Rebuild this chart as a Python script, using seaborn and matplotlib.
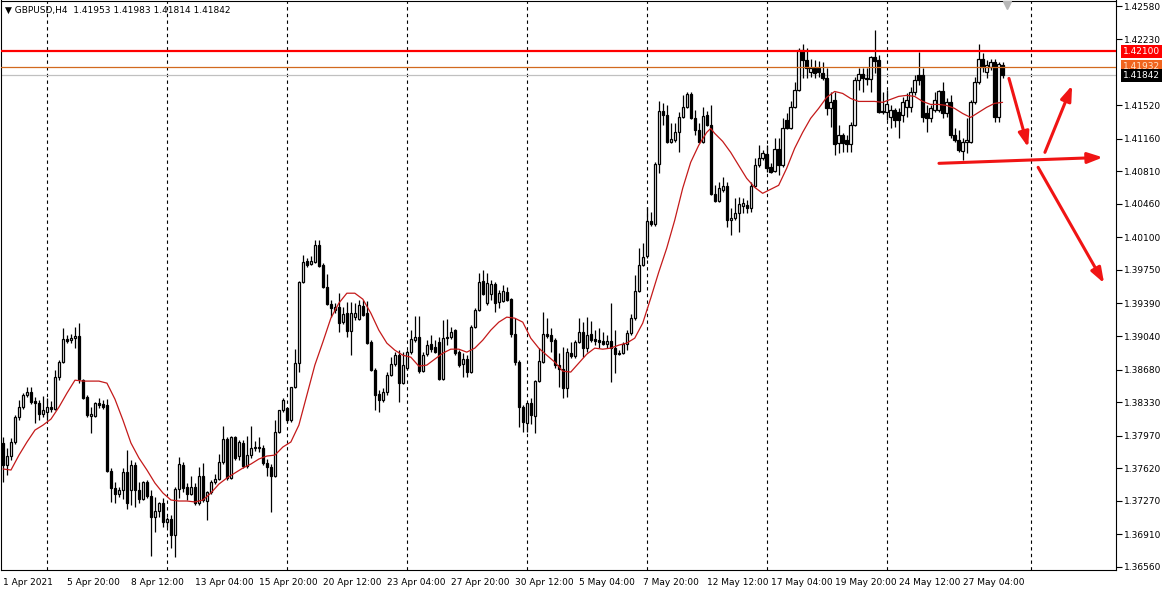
import numpy as np
import matplotlib
matplotlib.use("Agg")
import matplotlib.pyplot as plt
import matplotlib.transforms as mtransforms
import seaborn as sns

symbol_title = "\u25BC GBPUSD,H4  1.41953 1.41983 1.41814 1.41842"

opens = [
 1.37891,1.37654,1.37751,1.37902,1.38169,1.38277,1.38405,1.38438,1.38341,1.38320,
 1.38201,1.38223,1.38277,1.38255,1.38599,1.38760,1.39006,1.38996,1.39017,1.39039,
 1.38566,1.38384,1.38180,1.38180,1.38320,1.38309,1.38298,1.37590,1.37407,1.37343,
 1.37386,1.37580,1.37386,1.37654,1.37386,1.37289,1.37472,1.37322,1.37096,1.37160,
 1.37247,1.37043,1.37075,1.36903,1.37397,1.37654,1.37418,1.37343,1.37418,1.37247,
 1.37537,1.37268,1.37365,1.37472,1.37504,1.37687,1.37933,1.37515,1.37955,1.37751,
 1.37891,1.37644,1.37761,1.37837,1.37848,1.37837,1.37676,1.37633,1.37537,1.38009,
 1.38244,1.38266,1.38137,1.38491,1.38749,1.39618,1.39843,1.39811,1.39833,1.40015,
 1.39800,1.39564,1.39382,1.39318,1.39350,1.39189,1.39286,1.39092,1.39243,1.39221,
 1.39361,1.39286,1.38975,1.38674,1.38416,1.38352,1.38438,1.38620,1.38738,1.38834,
 1.38534,1.38695,1.38867,1.38996,1.39028,1.38663,1.38845,1.38953,1.38921,1.38975,
 1.38577,1.39028,1.39028,1.39103,1.38867,1.38738,1.38792,1.38653,1.39135,1.39318,
 1.39628,1.39393,1.39489,1.39596,1.39404,1.39414,1.39511,1.39436,1.39060,1.38760,
 1.38277,1.38105,1.38320,1.38180,1.38555,1.38760,1.39060,1.39049,1.38996,1.38728,
 1.38685,1.38480,1.38856,1.38824,1.38975,1.39082,1.38910,1.39060,1.39006,1.38996,
 1.38985,1.38953,1.38985,1.38910,1.38856,1.38856,1.38953,1.39071,1.39232,1.39521,
 1.39800,1.39897,1.40272,1.40240,1.40884,1.41453,1.41410,1.41120,1.41142,1.41227,
 1.41388,1.41496,1.41635,1.41377,1.41249,1.41120,1.41410,1.41303,1.40562,1.40487,
 1.40605,1.40648,1.40283,1.40305,1.40358,1.40433,1.40444,1.40412,1.40648,1.40873,
 1.40948,1.40991,1.40852,1.40809,1.41045,1.40873,1.41356,1.41270,1.41496,1.41678,
 1.42107,1.42000,1.41871,1.41914,1.41914,1.41860,1.41807,1.41485,1.41571,1.41109,
 1.41195,1.41142,1.41099,1.41303,1.41785,1.41850,1.41796,1.41796,1.42032,1.42000,
 1.41453,1.41442,1.41388,1.41464,1.41442,1.41410,1.41496,1.41496,1.41657,1.41839,
 1.41839,1.41431,1.41377,1.41464,1.41464,1.41667,1.41431,1.41550,1.41195,1.41142,
 1.41024,1.41120,1.41120,1.41550,1.41764,1.42021,1.41871,1.41925,1.41979,1.41388,
 1.41953]

highs = [
 1.37955,1.37837,1.37944,1.38190,1.38352,1.38427,1.38491,1.38491,1.38384,1.38352,
 1.38395,1.38373,1.38341,1.38674,1.38781,1.39124,1.39049,1.39060,1.39135,1.39178,
 1.38577,1.38405,1.38277,1.38331,1.38373,1.38352,1.38362,1.37622,1.37472,1.37418,
 1.37622,1.37815,1.37708,1.37687,1.37472,1.37482,1.37493,1.37386,1.37311,1.37258,
 1.37300,1.37096,1.37118,1.37418,1.37740,1.37687,1.37461,1.37537,1.37461,1.37633,
 1.37676,1.37375,1.37493,1.37558,1.37772,1.38073,1.37955,1.37966,1.37966,1.37923,
 1.37923,1.37966,1.38073,1.37912,1.37955,1.37869,1.37719,1.37665,1.38137,1.38244,
 1.38373,1.38277,1.38491,1.38899,1.39628,1.39907,1.39875,1.39897,1.40069,1.40069,
 1.39822,1.39704,1.39425,1.39393,1.39500,1.39350,1.39404,1.39404,1.39393,1.39425,
 1.39425,1.39414,1.38996,1.38695,1.38459,1.38480,1.38653,1.38813,1.38867,1.38888,
 1.38867,1.38888,1.39103,1.39253,1.39253,1.38867,1.38996,1.39049,1.38996,1.39028,
 1.39210,1.39221,1.39135,1.39114,1.38888,1.38856,1.38834,1.39157,1.39339,1.39715,
 1.39747,1.39715,1.39639,1.39618,1.39532,1.39586,1.39564,1.39446,1.39232,1.38781,
 1.38298,1.38320,1.38373,1.38566,1.38910,1.39296,1.39232,1.39124,1.39017,1.38856,
 1.38921,1.38910,1.38975,1.38996,1.39232,1.39189,1.39243,1.39200,1.39103,1.39124,
 1.39082,1.39049,1.39393,1.39103,1.38888,1.38975,1.39103,1.39275,1.39693,1.39983,
 1.40037,1.40423,1.40369,1.40906,1.41560,1.41539,1.41517,1.41324,1.41324,1.41442,
 1.41624,1.41657,1.41657,1.41464,1.41324,1.41496,1.41453,1.41517,1.40659,1.40691,
 1.40745,1.40691,1.40412,1.40519,1.40530,1.40519,1.40498,1.40691,1.40948,1.41088,
 1.41034,1.41088,1.40895,1.41163,1.41163,1.41377,1.41431,1.41560,1.41764,1.42129,
 1.42182,1.42129,1.42021,1.42000,1.41989,1.41979,1.41914,1.41657,1.41657,1.41303,
 1.41217,1.41195,1.41335,1.41817,1.41914,1.41914,1.41914,1.42043,1.42322,1.42054,
 1.41657,1.41678,1.41517,1.41485,1.41485,1.41603,1.41646,1.41710,1.41839,1.42086,
 1.41914,1.41517,1.41517,1.41657,1.41678,1.41764,1.41593,1.41624,1.41270,1.41249,
 1.41163,1.41377,1.41571,1.41817,1.42182,1.42075,1.42000,1.42021,1.42021,1.41979,
 1.41983]

lows = [
 1.37472,1.37547,1.37708,1.37880,1.38137,1.38255,1.38384,1.38309,1.38105,1.38137,
 1.38169,1.38137,1.38223,1.38244,1.38566,1.38749,1.38964,1.38964,1.38910,1.38534,
 1.38362,1.38169,1.37998,1.38169,1.38266,1.38255,1.37580,1.37258,1.37247,1.37311,
 1.37289,1.37182,1.37225,1.37204,1.37247,1.37279,1.37300,1.36678,1.36936,1.37096,
 1.36989,1.36989,1.36764,1.36667,1.37300,1.37365,1.37279,1.37332,1.37225,1.37225,
 1.37258,1.37064,1.37343,1.37450,1.37493,1.37665,1.37493,1.37504,1.37708,1.37708,
 1.37622,1.37622,1.37730,1.37805,1.37794,1.37654,1.37537,1.37150,1.37526,1.37998,
 1.38223,1.38116,1.38116,1.38480,1.38653,1.39607,1.39779,1.39800,1.39822,1.39779,
 1.39553,1.39371,1.39243,1.39286,1.39082,1.39168,1.39028,1.38834,1.39210,1.39210,
 1.39253,1.38953,1.38663,1.38244,1.38223,1.38331,1.38405,1.38609,1.38717,1.38331,
 1.38523,1.38674,1.38845,1.38975,1.38642,1.38653,1.38824,1.38867,1.38856,1.38566,
 1.38566,1.38942,1.39006,1.38834,1.38706,1.38599,1.38599,1.38642,1.39124,1.39307,
 1.39478,1.39371,1.39425,1.39296,1.39339,1.39404,1.39414,1.39028,1.38728,1.38062,
 1.38009,1.38009,1.38094,1.37998,1.38545,1.38749,1.39017,1.38867,1.38695,1.38491,
 1.38373,1.38384,1.38803,1.38803,1.38964,1.38813,1.38867,1.38975,1.38942,1.38910,
 1.38942,1.38910,1.38545,1.38642,1.38834,1.38845,1.38888,1.39049,1.39210,1.39511,
 1.39789,1.39875,1.40219,1.40219,1.40788,1.41303,1.41109,1.41109,1.41120,1.41012,
 1.41377,1.41485,1.41367,1.41195,1.41109,1.41109,1.41292,1.40551,1.40476,1.40476,
 1.40584,1.40208,1.40122,1.40283,1.40155,1.40358,1.40358,1.40369,1.40637,1.40852,
 1.40927,1.40798,1.40788,1.40798,1.40766,1.40852,1.41260,1.41260,1.41485,1.41667,
 1.41807,1.41807,1.41817,1.41807,1.41817,1.41785,1.41410,1.41281,1.40981,1.41002,
 1.41013,1.41013,1.41013,1.41292,1.41678,1.41657,1.41732,1.41657,1.41860,1.41431,
 1.41420,1.41356,1.41270,1.41281,1.41163,1.41335,1.41388,1.41442,1.41624,1.41732,
 1.41335,1.41227,1.41335,1.41442,1.41442,1.41377,1.41388,1.41163,1.41120,1.41013,
 1.40927,1.41002,1.41109,1.41528,1.41742,1.41871,1.41807,1.41893,1.41335,1.41335,
 1.41814]

closes = [
 1.37654,1.37751,1.37902,1.38169,1.38277,1.38405,1.38438,1.38331,1.38320,1.38201,
 1.38244,1.38277,1.38255,1.38599,1.38760,1.39006,1.38985,1.39017,1.39039,1.38577,
 1.38373,1.38190,1.38201,1.38320,1.38298,1.38277,1.37590,1.37407,1.37343,1.37386,
 1.37580,1.37247,1.37654,1.37386,1.37289,1.37472,1.37322,1.37096,1.37160,1.37247,
 1.37043,1.37075,1.36903,1.37397,1.37665,1.37407,1.37343,1.37418,1.37247,1.37537,
 1.37279,1.37365,1.37472,1.37504,1.37687,1.37933,1.37515,1.37955,1.37730,1.37902,
 1.37644,1.37761,1.37837,1.37848,1.37837,1.37676,1.37633,1.37537,1.38009,1.38244,
 1.38352,1.38137,1.38491,1.38749,1.39618,1.39833,1.39800,1.39843,1.40015,1.39789,
 1.39564,1.39382,1.39339,1.39350,1.39178,1.39275,1.39092,1.39286,1.39286,1.39371,
 1.39264,1.38964,1.38674,1.38405,1.38352,1.38438,1.38620,1.38738,1.38834,1.38534,
 1.38728,1.38867,1.39006,1.39028,1.38663,1.38834,1.38942,1.38899,1.38867,1.38577,
 1.39017,1.39017,1.39082,1.38856,1.38728,1.38792,1.38653,1.39135,1.39318,1.39618,
 1.39489,1.39607,1.39596,1.39393,1.39500,1.39521,1.39425,1.39060,1.38760,1.38277,
 1.38116,1.38320,1.38190,1.38555,1.38770,1.39060,1.39039,1.38985,1.38728,1.38685,
 1.38480,1.38867,1.38824,1.38975,1.39082,1.38910,1.39049,1.38996,1.38985,1.38975,
 1.38953,1.38985,1.38910,1.38845,1.38845,1.38953,1.39071,1.39232,1.39521,1.39800,
 1.39886,1.40272,1.40240,1.40884,1.41453,1.41410,1.41120,1.41152,1.41227,1.41388,
 1.41496,1.41635,1.41377,1.41249,1.41120,1.41399,1.41303,1.40562,1.40487,1.40627,
 1.40648,1.40283,1.40305,1.40358,1.40455,1.40466,1.40412,1.40648,1.40873,1.40948,
 1.41002,1.40841,1.40798,1.41045,1.40873,1.41270,1.41270,1.41496,1.41678,1.42107,
 1.42000,1.41914,1.41914,1.41860,1.41871,1.41807,1.41485,1.41550,1.41099,1.41195,
 1.41109,1.41099,1.41303,1.41785,1.41850,1.41807,1.41807,1.42032,1.41989,1.41442,
 1.41442,1.41528,1.41464,1.41356,1.41356,1.41550,1.41571,1.41657,1.41785,1.41785,
 1.41388,1.41377,1.41485,1.41571,1.41667,1.41431,1.41550,1.41195,1.41142,1.41034,
 1.41120,1.41142,1.41550,1.41764,1.42021,1.41925,1.41946,1.41979,1.41388,1.41957,
 1.41842]

# moving average (candle index, price)
ma_index = [0,2,4,6,8,10,12,14,16,18,20,22,24,26,28,30,32,34,36,38,
            40,42,44,46,48,50,52,54,56,58,60,62,64,66,68,70,72,74,76,78,
            80,82,84,86,88,90,92,94,96,98,100,102,104,106,108,110,112,114,116,118,
            120,122,124,126,128,130,132,134,136,138,140,142,144,146,148,150,152,154,156,158,
            160,162,164,166,168,170,172,174,176,177,178,180,182,184,186,188,190,192,194,196,
            198,200,202,204,206,208,210,212,214,216,218,220,222,224,226,228,230,232,234,236,
            238,240,242,244,246,248,250]
ma_values = [1.37612,1.37601,1.37761,1.37902,1.38030,1.38083,1.38148,1.38277,1.38427,1.38566,
             1.38556,1.38556,1.38556,1.38534,1.38362,1.38137,1.37891,1.37730,1.37601,1.37461,
             1.37354,1.37279,1.37268,1.37268,1.37258,1.37279,1.37354,1.37450,1.37515,1.37569,
             1.37622,1.37665,1.37719,1.37751,1.37761,1.37848,1.37902,1.38083,1.38405,1.38728,
             1.38975,1.39232,1.39393,1.39500,1.39500,1.39436,1.39286,1.39103,1.38964,1.38888,
             1.38834,1.38813,1.38717,1.38728,1.38792,1.38856,1.38899,1.38899,1.38867,1.38910,
             1.38996,1.39103,1.39189,1.39243,1.39232,1.39189,1.39017,1.38910,1.38834,1.38760,
             1.38663,1.38653,1.38749,1.38845,1.38910,1.38899,1.38910,1.38942,1.38964,1.39017,
             1.39178,1.39446,1.39725,1.39983,1.40283,1.40627,1.40906,1.41088,1.41227,1.41270,
             1.41217,1.41131,1.41013,1.40873,1.40734,1.40637,1.40573,1.40616,1.40659,1.40841,
             1.41056,1.41227,1.41378,1.41485,1.41603,1.41667,1.41646,1.41592,1.41560,1.41560,
             1.41560,1.41550,1.41582,1.41614,1.41625,1.41614,1.41560,1.41528,1.41528,1.41517,
             1.41485,1.41431,1.41388,1.41442,1.41496,1.41539,1.41550]

time_label_index = [0, 16, 32, 48, 64, 80, 96, 112, 128, 144, 160, 176, 192, 208, 224, 240]
time_labels = ["1 Apr 2021", "5 Apr 20:00", "8 Apr 12:00", "13 Apr 04:00", "15 Apr 20:00",
               "20 Apr 12:00", "23 Apr 04:00", "27 Apr 20:00", "30 Apr 12:00", "5 May 04:00",
               "7 May 20:00", "12 May 12:00", "17 May 04:00", "19 May 20:00", "24 May 12:00",
               "27 May 04:00"]
week_separators = [11, 41, 71, 101, 131, 161, 191, 221, 257]
price_ticks = [1.42580, 1.42230, 1.41520, 1.41160, 1.40810, 1.40460, 1.40100, 1.39750,
               1.39390, 1.39040, 1.38680, 1.38330, 1.37970, 1.37620, 1.37270, 1.36910, 1.36560]
resistance_level = 1.42100
orange_level = 1.41932
bid_level = 1.41842
# scenario arrows drawn on the chart: (start index, start price, end index, end price)
arrow_starts_x = [251.6, 260.6, 234.1, 258.9]
arrow_starts_y = [1.41807, 1.41013, 1.40895, 1.40852]
arrow_ends_x = [256.4, 267.4, 275.1, 275.4]
arrow_ends_y = [1.41067, 1.41732, 1.40959, 1.39607]

sns.set_style("white")
plt.rcParams['font.family'] = ['DejaVu Sans']

W, H = 1166, 594
fig = plt.figure(figsize=(W / 100, H / 100), dpi=100)
ax = fig.add_axes([0.5 / W, 24 / H, 1115.5 / W, 569.5 / H])

idx = np.arange(len(closes))
o = np.array(opens); c = np.array(closes); hi = np.array(highs); lo = np.array(lows)
bull = c >= o

ax.vlines(idx, lo, hi, color='black', linewidth=0.9, zorder=2)
ax.bar(idx, np.abs(c - o), bottom=np.minimum(o, c), width=0.58,
       color=np.where(bull, 'white', 'black'), edgecolor='black', linewidth=0.9, zorder=3)

sns.lineplot(x=ma_index, y=ma_values, color='#c41a1a', linewidth=0.9, ax=ax, zorder=4, legend=False)

for s in week_separators:
    ax.axvline(s, color='black', linewidth=0.8, linestyle=(0, (3, 3)), zorder=1)

ax.axhline(bid_level, color='#c0c0c0', linewidth=0.9, zorder=1)
ax.axhline(orange_level, color='#d2691e', linewidth=0.9, zorder=5)
ax.axhline(resistance_level, color='#ff0000', linewidth=1.6, zorder=5)

for sx, sy, ex, ey in zip(arrow_starts_x, arrow_starts_y, arrow_ends_x, arrow_ends_y):
    ax.annotate('', xy=(ex, ey), xytext=(sx, sy),
                arrowprops=dict(arrowstyle='-|>,head_length=0.9,head_width=0.32',
                                color='#f01414', lw=2.2, shrinkA=0, shrinkB=0),
                annotation_clip=False, zorder=6)

ax.set_xlim(-0.625, 278.375)
ax.set_ylim(1.36527, 1.42644)

ax.yaxis.tick_right()
ax.set_yticks(price_ticks)
ax.set_yticklabels([f"{v:.5f}" for v in price_ticks])
ax.set_xticks(time_label_index)
ax.set_xticklabels(time_labels)
for lbl in ax.get_xticklabels():
    lbl.set_horizontalalignment('left')
ax.tick_params(axis='y', direction='out', length=4, width=0.8, pad=2, labelsize=6.5, colors='black')
ax.tick_params(axis='x', direction='out', length=4, width=0.8, pad=1.5, labelsize=6.5, colors='black')
ax.set_xlabel(''); ax.set_ylabel('')
for sp in ax.spines.values():
    sp.set_visible(True)
    sp.set_color('black')
    sp.set_linewidth(0.8)

trans = mtransforms.blended_transform_factory(ax.transAxes, ax.transData)
for level, fc, tc in [(orange_level, '#f0641e', '#ffe4cc'),
                      (bid_level, 'black', 'white'),
                      (resistance_level, '#ff0000', 'white')]:
    ax.text(1.0 + 7 / 1116, level, f"{level:.5f}", transform=trans, ha='left', va='center',
            fontsize=6.5, color=tc, clip_on=False, zorder=10,
            bbox=dict(boxstyle='square,pad=0.22', fc=fc, ec='none'))

ax.text(5 / 1116, 1 - 10 / 570, symbol_title, transform=ax.transAxes, fontsize=6.5,
        ha='left', va='center', color='black', zorder=10)

shift_trans = mtransforms.blended_transform_factory(ax.transData, ax.transAxes)
ax.plot([len(closes)], [0.992], marker='v', markersize=6, color='#b8b8b8',
        transform=shift_trans, clip_on=False, zorder=10)

fig.savefig('out.png', dpi=100)
